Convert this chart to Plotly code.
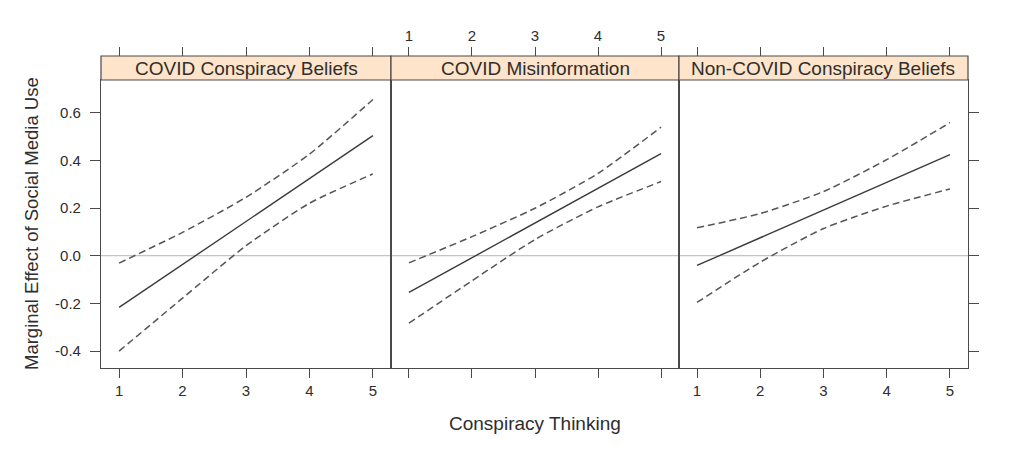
import plotly.graph_objects as go

# ---- data ----
panels = ["COVID Conspiracy Beliefs", "COVID Misinformation", "Non-COVID Conspiracy Beliefs"]
x_vals = [1, 2, 3, 4, 5]
fit = [
    [-0.217, -0.037, 0.143, 0.323, 0.504],
    [-0.154, -0.009, 0.137, 0.282, 0.428],
    [-0.041, 0.075, 0.191, 0.308, 0.424],
]
upper = [
    [-0.031, 0.098, 0.245, 0.426, 0.655],
    [-0.030, 0.080, 0.199, 0.345, 0.539],
    [0.117, 0.177, 0.269, 0.403, 0.558],
]
lower = [
    [-0.400, -0.178, 0.042, 0.220, 0.343],
    [-0.283, -0.105, 0.068, 0.205, 0.311],
    [-0.196, -0.027, 0.114, 0.208, 0.280],
]
x_ticks = [1, 2, 3, 4, 5]
y_ticks = [-0.4, -0.2, 0.0, 0.2, 0.4, 0.6]
y_tick_labels = ["-0.4", "-0.2", "0.0", "0.2", "0.4", "0.6"]
x_title = "Conspiracy Thinking"
y_title = "Marginal Effect of Social Media Use"

# ---- layout geometry ----
W, H = 1024, 476
ml, mr, mt, mb = 101, 56, 56, 108
pw = W - ml - mr          # 867
ph = H - mt - mb          # 312
panel_px = [(0, 290), (290, 578), (578, 867)]
domains = [[a / pw, b / pw] for a, b in panel_px]
ytop = 288 / ph
x_range = [0.715, 5.285]
y_range = [-0.471, 0.737]

FONT = "Liberation Sans, Arial, sans-serif"
AX = "#4a4a4a"
TXT = "#2e2e2e"
TICKFONT = 15

fig = go.Figure()

for i in range(3):
    xa = "x" if i == 0 else f"x{i+1}"
    ya = "y" if i == 0 else f"y{i+1}"
    fig.add_trace(go.Scatter(x=x_vals, y=fit[i], mode="lines", xaxis=xa, yaxis=ya,
                             line=dict(color="#3a3a3a", width=1.4), showlegend=False,
                             hoverinfo="skip"))
    for band in (upper[i], lower[i]):
        fig.add_trace(go.Scatter(x=x_vals, y=band, mode="lines", xaxis=xa, yaxis=ya,
                                 line=dict(color="#555555", width=1.5, dash="7px,4px",
                                           shape="spline", smoothing=0.6),
                                 showlegend=False, hoverinfo="skip"))
    # dummy trace for top tick axis
    fig.add_trace(go.Scatter(x=[None], y=[None], xaxis=f"x{i+4}", yaxis=ya,
                             showlegend=False, hoverinfo="skip"))

layout = dict(
    width=W, height=H,
    margin=dict(l=ml, r=mr, t=mt, b=mb, pad=0),
    paper_bgcolor="white", plot_bgcolor="white",
    font=dict(family=FONT, color=TXT, size=TICKFONT),
    showlegend=False,
)

for i in range(3):
    n = "" if i == 0 else str(i + 1)
    layout[f"xaxis{n}"] = dict(
        domain=domains[i], range=x_range, anchor=f"y{n}",
        tickvals=x_ticks, ticktext=[str(t) for t in x_ticks],
        ticks="outside", ticklen=9, tickwidth=1.3, tickcolor=AX,
        showticklabels=(i != 1),
        showline=True, linecolor=AX, linewidth=1.3, mirror=True,
        showgrid=False, zeroline=False,
        tickfont=dict(size=TICKFONT, color=TXT),
    )
    layout[f"xaxis{i+4}"] = dict(
        domain=domains[i], range=x_range, overlaying=f"x{n}", side="top",
        anchor="free", position=1,
        tickvals=x_ticks, ticktext=[str(t) for t in x_ticks],
        ticks="outside", ticklen=9, tickwidth=1.3, tickcolor=AX,
        showticklabels=(i == 1),
        showline=False, showgrid=False, zeroline=False,
        tickfont=dict(size=TICKFONT, color=TXT),
    )
    layout[f"yaxis{n}"] = dict(
        domain=[0, ytop], range=y_range, anchor=f"x{n}",
        tickvals=y_ticks, ticktext=y_tick_labels,
        ticks=("outside" if i != 1 else ""), ticklen=10, tickwidth=1.3, tickcolor=AX,
        showticklabels=(i == 0), ticklabelstandoff=6,
        side=("right" if i == 2 else "left"),
        showline=True, linecolor=AX, linewidth=1.1, mirror=True,
        showgrid=False, zeroline=False,
        tickfont=dict(size=TICKFONT, color=TXT),
    )

shapes = []
annotations = []
for i in range(3):
    xa = "x" if i == 0 else f"x{i+1}"
    ya = "y" if i == 0 else f"y{i+1}"
    # zero reference line
    shapes.append(dict(type="line", xref=f"{xa} domain", yref=ya, x0=0, x1=1, y0=0, y1=0,
                       line=dict(color="#b5b5b5", width=1), layer="below"))
    # strip
    shapes.append(dict(type="rect", xref="paper", yref="paper",
                       x0=domains[i][0], x1=domains[i][1], y0=ytop, y1=1,
                       fillcolor="#fde4ca", line=dict(color=AX, width=1.2), layer="above"))
    annotations.append(dict(text=panels[i], xref="paper", yref="paper",
                            x=(domains[i][0] + domains[i][1]) / 2, y=(ytop + 1) / 2,
                            xanchor="center", yanchor="middle", showarrow=False,
                            font=dict(size=19, color=TXT, family=FONT)))

annotations.append(dict(text=x_title, xref="paper", yref="paper", x=0.5, y=0,
                        xanchor="center", yanchor="middle", yshift=-55, showarrow=False,
                        font=dict(size=19, color=TXT, family=FONT)))
annotations.append(dict(text=y_title, xref="paper", yref="paper", x=0, y=ytop / 2,
                        xanchor="center", yanchor="middle", xshift=-70, textangle=-90,
                        showarrow=False, font=dict(size=18.5, color=TXT, family=FONT)))

layout["shapes"] = shapes
layout["annotations"] = annotations
fig.update_layout(**layout)

fig.write_html("out.html")
